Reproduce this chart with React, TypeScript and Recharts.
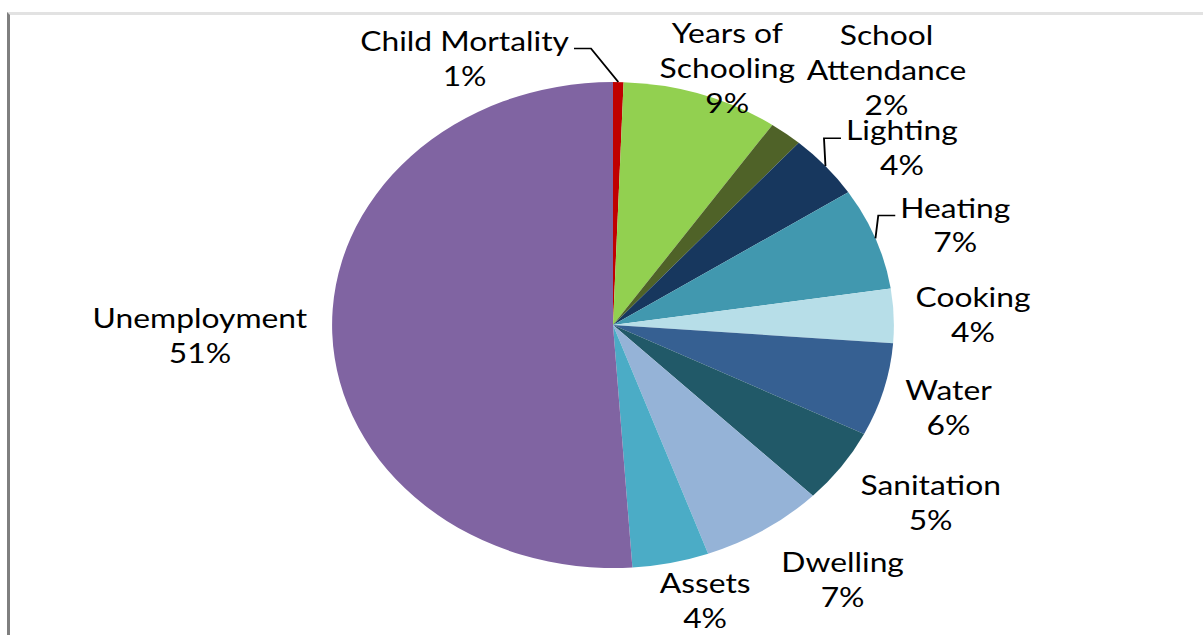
import { PieChart, Pie, Cell } from 'recharts';

const categories = [
  'Child Mortality',
  'Years of Schooling',
  'School Attendance',
  'Lighting',
  'Heating',
  'Cooking',
  'Water',
  'Sanitation',
  'Dwelling',
  'Assets',
  'Unemployment',
];

// shares in percent
const shares = [0.6, 9.0, 1.9, 4.3, 6.8, 3.6, 6.2, 5.0, 7.1, 4.4, 51.1];

const COLORS = [
  '#C00000',
  '#92D050',
  '#4F6228',
  '#17375E',
  '#4198AF',
  '#B7DEE8',
  '#366092',
  '#215968',
  '#95B3D7',
  '#4BACC6',
  '#8064A2',
];

const data = categories.map((name, i) => ({ name, value: shares[i] }));

// the picture is stretched horizontally, text included
const SX = 1.156;
const CX = 613;
const CY = 325;
const R = 243;
const LABEL_R = 303;
const LINE_H = 35;
const FONT_SIZE = 27.5;
const FONT = 'Lato, "Open Sans", sans-serif';
const RAD = Math.PI / 180;

// best-fit nudges (screen px) and leader line side (+1 right of text, -1 left, 0 none)
const LABEL_NUDGE: [number, number][] = [
  [-155, 36], [4, 31], [58, -16], [24, 21], [15, 8], [10, 1],
  [-2, 2], [33, 1], [41, -1], [20, -21], [-63, 0],
];
const LEADER = [1, 0, 0, -1, -1, 0, 0, 0, 0, 0, 0];

const WRAP: Record<string, string[]> = {
  'Years of Schooling': ['Years of', 'Schooling'],
  'School Attendance': ['School', 'Attendance'],
};

let ctx: CanvasRenderingContext2D | null = null;
const textWidth = (s: string) => {
  if (!ctx) ctx = document.createElement('canvas').getContext('2d');
  if (!ctx) return s.length * 14;
  ctx.font = `${FONT_SIZE}px ${FONT}`;
  return ctx.measureText(s).width;
};

const renderLabel = (props: any) => {
  const { cx, cy, midAngle, outerRadius, index } = props;
  const a = -midAngle * RAD;
  const cos = Math.cos(a);
  const sin = Math.sin(a);
  const [nx, ny] = LABEL_NUDGE[index];
  const lx = cx + LABEL_R * cos + nx / SX;
  const ly = cy + LABEL_R * sin + ny;
  const name = categories[index];
  const lines = [...(WRAP[name] || [name]), `${Math.round(shares[index])}%`];
  const firstY = ly - ((lines.length - 1) / 2) * LINE_H;

  let leader = null;
  const side = LEADER[index];
  if (side !== 0) {
    const w = textWidth(lines[0]);
    const endX = lx + side * (w / 2 + 5 / SX);
    const kneeX = endX + (side * 17) / SX;
    const yL = firstY + 8;
    const ex = cx + outerRadius * cos;
    const ey = cy + outerRadius * sin;
    leader = (
      <polyline
        points={`${ex},${ey} ${kneeX},${yL} ${endX},${yL}`}
        fill="none"
        stroke="#000"
        strokeWidth={1.6}
      />
    );
  }

  return (
    <g key={`lbl-${index}`}>
      {leader}
      <text textAnchor="middle" fontFamily={FONT} fontSize={FONT_SIZE} fill="#000">
        {lines.map((t, i) => (
          <tspan key={i} x={lx} y={firstY + i * LINE_H + 10}>
            {t}
          </tspan>
        ))}
      </text>
    </g>
  );
};

export default function App() {
  return (
    <div
      style={{
        position: 'absolute',
        left: 0,
        top: 0,
        width: 1203,
        height: 635,
        overflow: 'hidden',
        background: '#fff',
      }}
    >
      <div
        style={{
          position: 'absolute',
          left: 7,
          top: 12,
          right: 0,
          bottom: 0,
          borderTop: '3px solid #e2e2e2',
          borderLeft: '3px solid #7f7f7f',
        }}
      />
      <div
        style={{
          position: 'absolute',
          left: 0,
          top: 0,
          width: 1203,
          height: 635,
          transform: `scaleX(${SX})`,
          transformOrigin: `${CX}px 0px`,
        }}
      >
        <PieChart width={1203} height={635} margin={{ top: 0, right: 0, bottom: 0, left: 0 }}>
          <Pie
            data={data}
            dataKey="value"
            nameKey="name"
            cx={CX}
            cy={CY}
            outerRadius={R}
            startAngle={90}
            endAngle={-270}
            stroke="none"
            label={renderLabel}
            labelLine={false}
            isAnimationActive={false}
          >
            {data.map((_, i) => (
              <Cell key={`cell-${i}`} fill={COLORS[i]} />
            ))}
          </Pie>
        </PieChart>
      </div>
    </div>
  );
}
